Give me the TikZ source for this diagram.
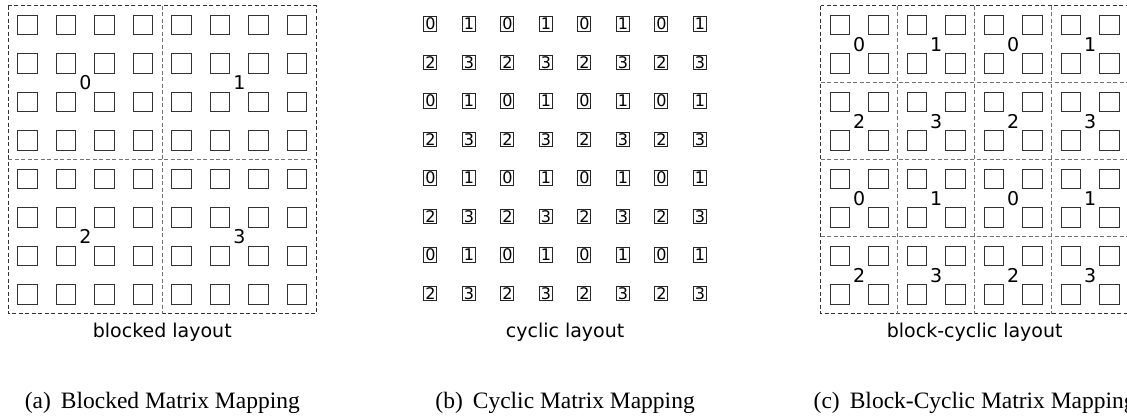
\documentclass[tikz,border=0pt]{standalone}
\usepackage{fontspec}
\setmainfont{Liberation Serif}
\newfontfamily\dejavu{DejaVu Sans}
\begin{document}
\begin{tikzpicture}[x=1pt,y=-1pt,
  cellbox/.style={draw=black!80, line width=0.9pt, minimum size=19.5pt, inner sep=0pt},
  numbox/.style={draw=black!85, line width=0.9pt, minimum width=13pt, minimum height=14.5pt, inner sep=0pt, anchor=north, font=\dejavu\fontsize{16}{16}\selectfont},
  frameline/.style={draw=black!80, line width=0.8pt, dash pattern=on 4pt off 2.5pt},
  divider/.style={draw=black!55, line width=0.8pt, dash pattern=on 4pt off 2.5pt},
  blocklabel/.style={font=\dejavu\fontsize{19}{19}\selectfont, inner sep=0pt},
  layoutlabel/.style={font=\dejavu\fontsize{19}{19}\selectfont, anchor=base, inner sep=0pt},
  subcap/.style={font=\fontsize{23.5}{24}\selectfont, anchor=base, inner sep=0pt}]
\useasboundingbox (0,0) rectangle (1127,415);
\def\YT{5.7}
% ---------- (a) blocked ----------
\def\XA{8.3}
\foreach \i in {0,...,7}{
  \foreach \j in {0,...,7}{
    \node[cellbox] (a-\i-\j) at (\XA+19.25+38.5*\i, \YT+19.25+38.5*\j) {};
  }
}
\draw[frameline] (\XA,\YT) rectangle ++(308,308);
\draw[divider] (\XA+154,\YT) -- ++(0,308);
\draw[divider] (\XA,\YT+154) -- ++(308,0);
\node[blocklabel] (a-l0) at (\XA+77,\YT+77) {0};
\node[blocklabel] (a-l1) at (\XA+231,\YT+77) {1};
\node[blocklabel] (a-l2) at (\XA+77,\YT+231) {2};
\node[blocklabel] (a-l3) at (\XA+231,\YT+231) {3};
\node[layoutlabel] (a-lay) at (\XA+154,337.7) {blocked layout};
\node[subcap] (a-sub) at (\XA+154,408) {(a)\hspace{10pt}Blocked Matrix Mapping};
% ---------- (b) cyclic ----------
\def\XB{411.1}
\foreach \i in {0,...,7}{
  \foreach \j in {0,...,7}{
    \pgfmathtruncatemacro\v{mod(\i,2)+2*mod(\j,2)}
    \node[numbox] (b-\i-\j) at (\XB+19.25+38.5*\i, \YT+10.3+38.5*\j) {\v};
  }
}
\node[layoutlabel] (b-lay) at (\XB+154,337.7) {cyclic layout};
\node[subcap] (b-sub) at (\XB+154,408) {(b)\hspace{10pt}Cyclic Matrix Mapping};
% ---------- (c) block-cyclic ----------
\def\XC{820.7}
\foreach \i in {0,...,7}{
  \foreach \j in {0,...,7}{
    \node[cellbox] (c-\i-\j) at (\XC+19.25+38.5*\i, \YT+19.25+38.5*\j) {};
  }
}
\draw[frameline] (\XC,\YT) rectangle ++(308,308);
\foreach \k in {1,2,3}{
  \draw[divider] (\XC+77*\k,\YT) -- ++(0,308);
  \draw[divider] (\XC,\YT+77*\k) -- ++(308,0);
}
\foreach \i in {0,...,3}{
  \foreach \j in {0,...,3}{
    \pgfmathtruncatemacro\v{mod(\i,2)+2*mod(\j,2)}
    \node[blocklabel] (c-l-\i-\j) at (\XC+38.5+77*\i, \YT+38.5+77*\j) {\v};
  }
}
\node[layoutlabel] (c-lay) at (\XC+154,337.7) {block-cyclic layout};
\node[subcap] (c-sub) at (\XC+154,408) {(c)\hspace{10pt}Block-Cyclic Matrix Mapping};
\end{tikzpicture}
\end{document}
